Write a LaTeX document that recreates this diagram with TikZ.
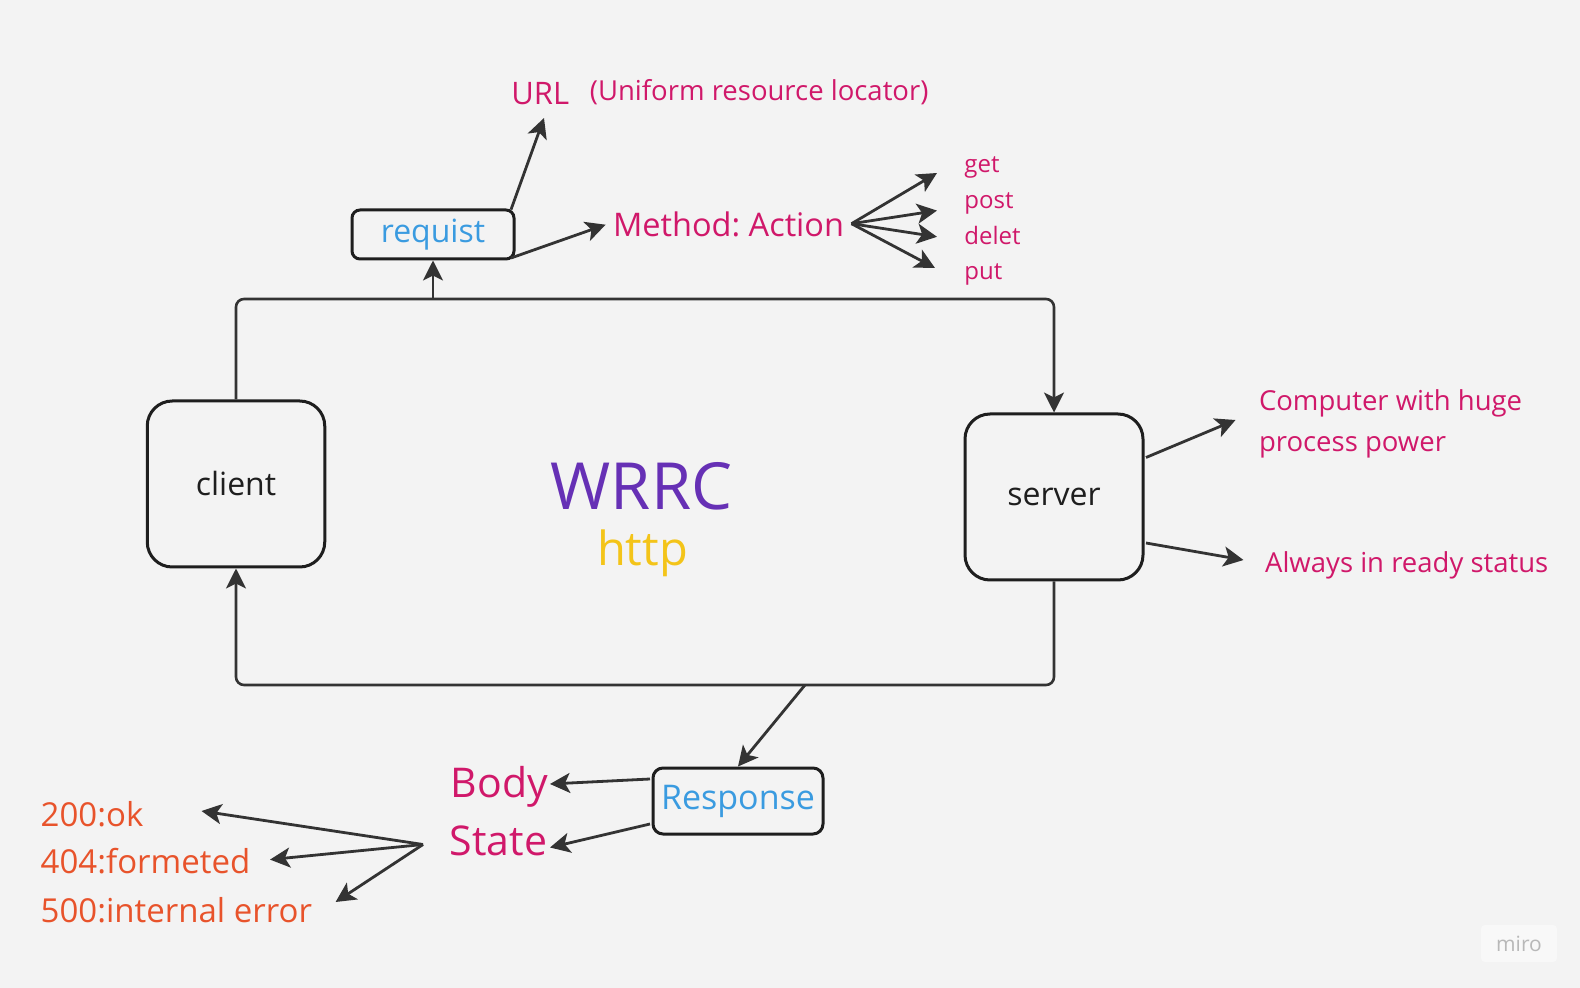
\documentclass[tikz,border=0pt]{standalone}
\usepackage{fontspec}
\setmainfont{Open Sans}
\usetikzlibrary{arrows.meta}
\definecolor{bg}{HTML}{F3F3F3}
\definecolor{mag}{HTML}{D0186A}
\definecolor{org}{HTML}{E8532B}
\definecolor{blu}{HTML}{3A9BE0}
\definecolor{pur}{HTML}{6630B5}
\definecolor{yel}{HTML}{F3C419}
\definecolor{ln}{HTML}{333333}
\definecolor{bx}{HTML}{1E1E1E}
\newcommand{\fs}[1]{\fontsize{#1}{1.2\dimexpr #1\relax}\selectfont}
\frenchspacing
\begin{document}
\begin{tikzpicture}[x=0.5pt,y=-0.5pt,
  box/.style={draw=bx, line width=1.5pt, inner sep=0pt, rounded corners=#1},
  tip/.style={-{Stealth[length=10pt,width=10pt,inset=2.5pt]}},
  conn/.style={draw=ln, line width=1.4pt, tip},
  loopline/.style={draw=ln, line width=1.3pt, rounded corners=4pt, tip},
  lbl/.style={anchor=base west, inner sep=0pt, text=mag}]
\fill[bg] (0,0) rectangle (1580,988);
\useasboundingbox (0,0) rectangle (1580,988);

% main boxes
\node[box=12.5pt, minimum width=88.75pt, minimum height=83pt, text=bx, font=\fs{16pt}] (client) at (236,484) {client};
\node[box=12.5pt, minimum width=89pt, minimum height=83pt, text=bx, font=\fs{16pt}] (server) at (1054,497) {server};
\node[box=4pt, minimum width=81pt, minimum height=24.5pt, text=blu, font=\fs{16pt}] (requist) at (433,234.5) {requist};
\node[box=5pt, minimum width=85pt, minimum height=33pt, text=blu, font=\fs{17pt}] (response) at (738,801) {Response};

% centre title
\node[anchor=base, inner sep=0pt, text=pur, font=\fs{32.5pt}] (wrrc) at (641.5,510) {WRRC};
\node[anchor=base, inner sep=0pt, text=yel, font=\fs{23.5pt}] (http) at (642.5,566) {http};

% loop
\coordinate (topy) at (0,299);
\coordinate (boty) at (0,685);
\draw[loopline] (client.north) |- (server.north |- topy) -- (server.north);
\draw[loopline] (server.south) |- (client.south |- boty) -- (client.south);

% request side
\coordinate (rqfoot) at (433,299);
\draw[conn] (rqfoot) -- (requist.south);
\node[lbl, font=\fs{15.5pt}] (url) at (511,105) {URL};
\node[lbl, font=\fs{13.75pt}] (urlnote) at (589.5,101) {(Uniform resource locator)};
\node[lbl, font=\fs{16.25pt}] (method) at (612.7,237) {Method: Action};
\coordinate (rqA) at (511,209.6);
\coordinate (urltip) at (544,118);
\draw[conn] (rqA) -- (urltip);
\coordinate (rqB) at (511,258);
\coordinate (mtip) at (605.6,224.7);
\draw[conn] (rqB) -- (mtip);

\node[lbl, font=\fs{12pt}] (get) at (964,173) {get};
\node[lbl, font=\fs{12pt}] (post) at (964,209) {post};
\node[lbl, font=\fs{12pt}] (delet) at (964,244.5) {delet};
\node[lbl, font=\fs{12pt}] (put) at (964,280) {put};
\coordinate (mend) at (851.5,223.7);
\coordinate (t1) at (937,173);
\coordinate (t2) at (937,210.6);
\coordinate (t3) at (937,236.8);
\coordinate (t4) at (935,268);
\draw[conn] (mend) -- (t1);
\draw[conn] (mend) -- (t2);
\draw[conn] (mend) -- (t3);
\draw[conn] (mend) -- (t4);

% server side
\node[lbl, font=\fs{13.75pt}] (comp) at (1258.6,411) {Computer with huge};
\node[lbl, font=\fs{13.75pt}] (comp2) at (1258.6,451.5) {process power};
\node[lbl, font=\fs{13.75pt}] (ready) at (1264.7,572.5) {Always in ready status};
\coordinate (sA) at (1146,457.5);
\coordinate (sAt) at (1235.5,420);
\coordinate (sB) at (1146,543);
\coordinate (sBt) at (1243.5,560);
\draw[conn] (sA) -- (sAt);
\draw[conn] (sB) -- (sBt);

% response side
\coordinate (rsfoot) at (805,685);
\draw[conn] (rsfoot) -- (response.north);
\node[lbl, font=\fs{20.5pt}] (body) at (450.5,797) {Body};
\node[lbl, font=\fs{20.5pt}] (state) at (449.4,855.5) {State};
\coordinate (rA) at (650,779);
\coordinate (rAt) at (550,784);
\coordinate (rB) at (650,824);
\coordinate (rBt) at (550,847.5);
\draw[conn] (rA) -- (rAt);
\draw[conn] (rB) -- (rBt);

\node[lbl, text=org, font=\fs{16.5pt}] (c200) at (40.3,826) {200:ok};
\node[lbl, text=org, font=\fs{16.5pt}] (c404) at (40.3,873.7) {404:formeted};
\node[lbl, text=org, font=\fs{16.5pt}] (c500) at (40.3,922) {500:internal error};
\coordinate (st) at (423,844.5);
\coordinate (k1) at (201.5,811);
\coordinate (k2) at (270,859.6);
\coordinate (k3) at (335.6,902);
\draw[conn] (st) -- (k1);
\draw[conn] (st) -- (k2);
\draw[conn] (st) -- (k3);

% watermark
\fill[fill=white!40!bg, rounded corners=2pt] (1481,925) rectangle (1557,962) ;
\node[inner sep=0pt, text=black!28, font=\fs{10.5pt}] (miro) at (1519,944) {miro};
\end{tikzpicture}
\end{document}
